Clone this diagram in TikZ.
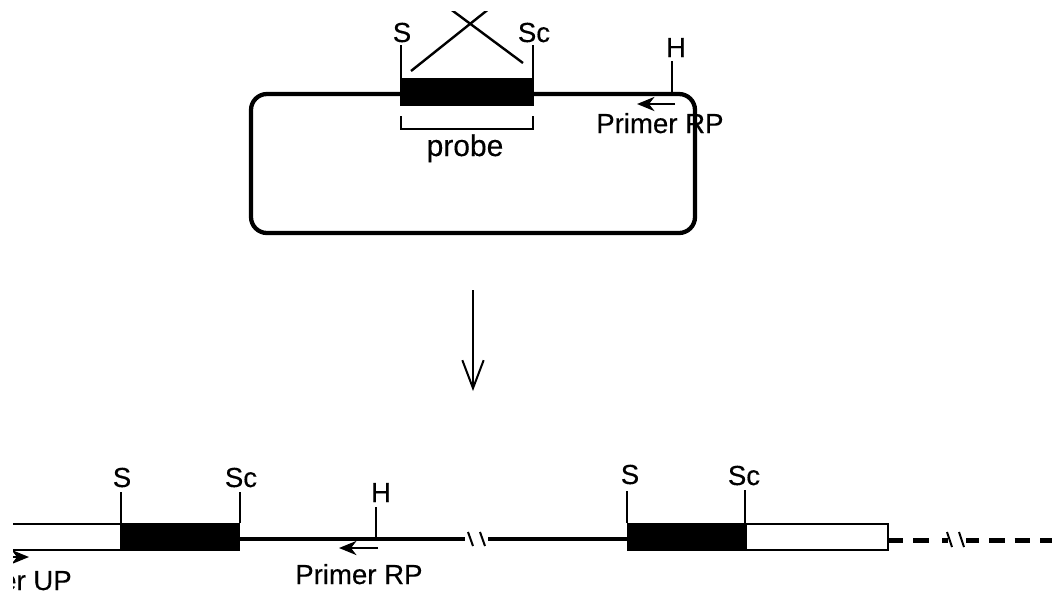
\documentclass[tikz,border=0pt]{standalone}
\usepackage{fontspec}
\setmainfont{Liberation Sans}[FakeBold=0.25,AutoFakeBold=0.25]
\usetikzlibrary{arrows.meta}
\tikzset{
  lbl/.style={inner sep=0pt,font=\fontsize{20.7}{24}\selectfont\bfseries,anchor=base},
  lblw/.style={lbl,anchor=base west},
  lble/.style={lbl,anchor=base east},
  tick/.style={line width=1.8pt},
  backbone/.style={line width=3.6pt},
  blackbox/.style={fill=black,draw=black,line width=1pt},
  whitebox/.style={fill=white,draw=black,line width=1.5pt},
  primer/.style={line width=2.2pt,-{Stealth[length=13pt,width=10.5pt,inset=4pt]}},
  slash/.style={line width=1.5pt},
}
\begin{document}
\begin{tikzpicture}[x=0.75pt,y=-0.75pt]
\useasboundingbox (0,0) rectangle (1052,594);
\fill[white] (0,0) rectangle (1052,594);
% --- plasmid
\draw[line width=3.2pt,rounded corners=12pt] (251,94) rectangle (695,233);
\node[blackbox,inner sep=0pt,minimum width=99pt,minimum height=20pt] (pb) at (467,92) {};
\coordinate (sT) at (401,45); \coordinate (sB) at (401,78);
\coordinate (scT) at (533,45); \coordinate (scB) at (533,78);
\coordinate (hT) at (672,61); \coordinate (hB) at (672,94);
\draw[tick] (sT) -- (sB);
\draw[tick] (scT) -- (scB);
\draw[tick] (hT) -- (hB);
\node[lbl] (ls) at (402,42) {S};
\node[lbl] (lsc) at (534,42) {Sc};
\node[lbl] (lh) at (676,57) {H};
\begin{scope}
\clip (380,11) rectangle (560,90);
\coordinate (x1a) at (411,71); \coordinate (x1b) at (490,8);
\coordinate (x2a) at (523,63); \coordinate (x2b) at (449,8);
\draw[line width=1.8pt] (x1a) -- (x1b);
\draw[line width=1.8pt] (x2a) -- (x2b);
\end{scope}
\coordinate (pa) at (675,104); \coordinate (pc) at (637,104);
\draw[primer] (pa) -- (pc);
\node[lblw] (rp1) at (596,133) {Primer RP};
\coordinate (b1) at (401,116); \coordinate (b2) at (401,129);
\coordinate (b3) at (533,129); \coordinate (b4) at (533,116);
\draw[line width=1.6pt] (b1) -- (b2) -- (b3) -- (b4);
\node[lbl,font=\fontsize{22.5}{24}\selectfont\bfseries] (pr) at (465,156) {probe};
% --- down arrow
\coordinate (da) at (473,290); \coordinate (db) at (473,391);
\draw[line width=1.5pt,-{Straight Barb[length=21pt,width=16pt]}] (da) -- (db);
% --- bottom construct
\begin{scope}
\clip (13,0) rectangle (1052,594);
\draw[whitebox] (5,523.5) rectangle (121,549.5);
\coordinate (ua) at (5,557); \coordinate (ub) at (29,557);
\draw[primer] (ua) -- (ub);
\node[lble] (up) at (72,590) {Primer UP};
\end{scope}
\fill[white] (0,515) rectangle (12.5,594);
\coordinate (l1) at (240,539); \coordinate (l2) at (465,539);
\coordinate (l3) at (488,539); \coordinate (l4) at (627,539);
\draw[backbone] (l1) -- (l2);
\draw[backbone] (l3) -- (l4);
\draw[slash] (468,532) -- (473,546);
\draw[slash] (480,532) -- (485,546);
\node[blackbox,inner sep=0pt,minimum width=88.5pt,minimum height=20pt] (bb1) at (180.5,536.5) {};
\node[blackbox,inner sep=0pt,minimum width=88.5pt,minimum height=20pt] (bb2) at (686.5,536.5) {};
\draw[whitebox] (746,523.5) rectangle (888,549.5);
\draw[tick] (121,492) -- (121,523);
\draw[tick] (240,492) -- (240,523);
\draw[tick] (376,507) -- (376,539);
\draw[tick] (627,491) -- (627,523);
\draw[tick] (745,490) -- (745,523);
\node[lbl] at (122,487) {S};
\node[lbl] at (241,487) {Sc};
\node[lbl] at (381,502) {H};
\node[lbl] at (630,484) {S};
\node[lbl] at (744,485) {Sc};
\coordinate (qa) at (378,548); \coordinate (qc) at (339,548);
\draw[primer] (qa) -- (qc);
\node[lblw] (rp2) at (295,584) {Primer RP};
\coordinate (d1) at (888,540.5); \coordinate (d2) at (1052,540.5);
\draw[backbone,dash pattern=on 11.5pt off 7.5pt] (d1) -- (d2);
\fill[white] (930,530) rectangle (966,550);
\draw[backbone] (942,540.5) -- (948,540.5);
\draw[slash] (947,532) -- (952,547);
\draw[slash] (959,532) -- (964,547);
\end{tikzpicture}
\end{document}
